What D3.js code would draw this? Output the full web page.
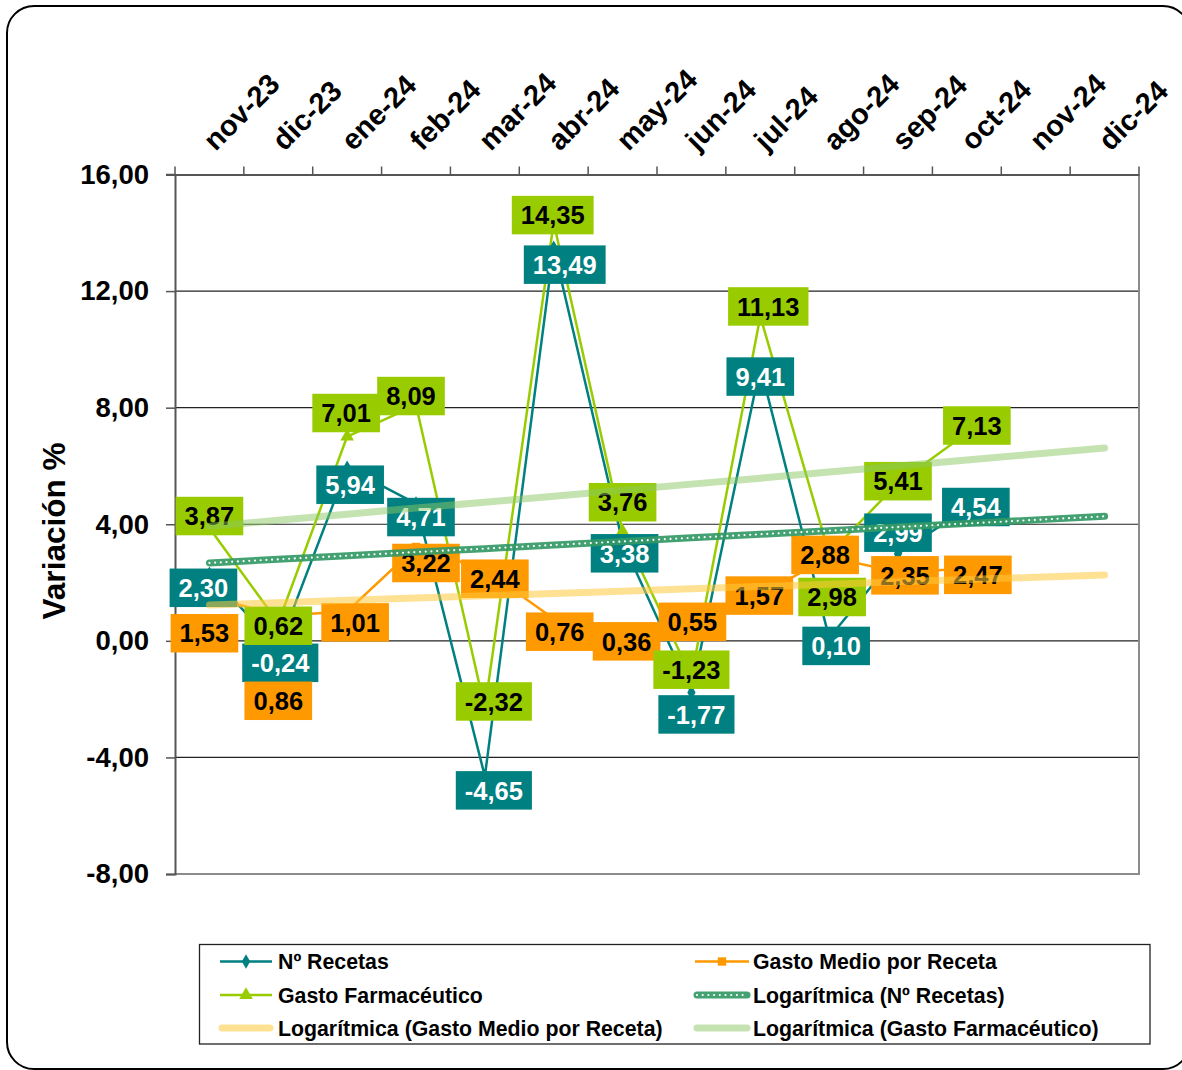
<!DOCTYPE html>
<html>
<head>
<meta charset="utf-8">
<script src="https://cdn.jsdelivr.net/npm/d3@7"></script>
<style>
  body { margin: 0; background: #fff; }
  svg { display: block; }
  text { font-family: "Liberation Sans", Arial, sans-serif; font-weight: bold; }
</style>
</head>
<body>
<svg id="chart" width="1182" height="1070"></svg>
<script>
// Months shown on the category axis (first day of each month, used for the trend fits)
const months = ["nov-23","dic-23","ene-24","feb-24","mar-24","abr-24","may-24","jun-24","jul-24","ago-24","sep-24","oct-24","nov-24","dic-24"];
const monthStarts = ["2023-11-01","2023-12-01","2024-01-01","2024-02-01","2024-03-01","2024-04-01","2024-05-01","2024-06-01","2024-07-01","2024-08-01","2024-09-01","2024-10-01","2024-11-01","2024-12-01"];

// Interannual variation (%) per month
const recetas     = [2.30, -0.24, 5.94, 4.71, -4.65, 13.49, 3.38, -1.77, 9.41, 0.10, 2.99, 4.54];
const gastoMedio  = [1.53, 0.86, 1.01, 3.22, 2.44, 0.76, 0.36, 0.55, 1.57, 2.88, 2.35, 2.47];
const gastoFarma  = [3.87, 0.62, 7.01, 8.09, -2.32, 14.35, 3.76, -1.23, 11.13, 2.98, 5.41, 7.13];

const yTicks = [-8, -4, 0, 4, 8, 12, 16];

// Placement of each value box relative to its point [dx, dy] in px
const recetasLabelShift    = [[-6,14],[2,15],[3,17],[5,13.5],[9,14],[11,17],[2,11],[5,22],[0,10],[7,8],[0,-21],[9,-1.5]];
const gastoMedioLabelShift = [[-5,37],[0,85],[8,11],[10,16],[10,9],[6,13],[4,11],[1,-3],[-1,0.5],[-4,-2],[7,3],[11,6]];
const gastoFarmaLabelShift = [[0,-12],[0,3],[-1,-23.5],[-5,-9],[9,-7],[-1,-7.5],[0,-29],[0,-7],[8,-10],[3,43],[0,-2],[10,-7.5]];

const TEAL = "#008080", ORANGE = "#FF9900", LIME = "#99CC00";

const svg = d3.select("#chart");

// outer rounded frame
svg.append("rect")
  .attr("x", 7).attr("y", 6).attr("width", 1183).attr("height", 1063)
  .attr("rx", 27).attr("ry", 27)
  .attr("fill", "#fff").attr("stroke", "#000").attr("stroke-width", 2);

const plot = { left: 175, right: 1139, top: 174.5, bottom: 874 };

const x = d3.scaleBand().domain(months).range([plot.left, plot.right]).padding(0);
const cx = i => x(months[i]) + x.bandwidth() / 2;
const y = d3.scaleLinear().domain([-8, 16]).range([plot.bottom, plot.top]);

// horizontal gridlines
svg.append("g").selectAll("line")
  .data(yTicks.filter(v => v > -8 && v < 16))
  .join("line")
  .attr("x1", plot.left).attr("x2", plot.right)
  .attr("y1", d => y(d)).attr("y2", d => y(d))
  .attr("stroke", "#222").attr("stroke-width", 1.2);

// right and bottom edges of the plot area
svg.append("path")
  .attr("d", `M${plot.right},${plot.top}V${plot.bottom}H${plot.left}`)
  .attr("fill", "none").attr("stroke", "#8c8c8c").attr("stroke-width", 2);

// value axis
const fmt = v => v.toFixed(2).replace(".", ",");
const yAxis = svg.append("g")
  .attr("transform", `translate(${plot.left},0)`)
  .call(d3.axisLeft(y).tickValues(yTicks).tickFormat(fmt).tickSize(9).tickPadding(17));
yAxis.select(".domain").attr("stroke", "#555").attr("stroke-width", 2);
yAxis.selectAll(".tick line").attr("stroke", "#555").attr("stroke-width", 1.5);
yAxis.selectAll(".tick text")
  .attr("font-size", 27.5).attr("font-weight", "bold").attr("fill", "#000")
  .attr("font-family", "'Liberation Sans', Arial, sans-serif");

// category axis along the top
const xAxis = svg.append("g")
  .attr("transform", `translate(0,${plot.top})`)
  .call(d3.axisTop(x).tickSize(0).tickFormat(""));
xAxis.select(".domain").attr("stroke", "#555").attr("stroke-width", 2);
svg.append("g").selectAll("line")
  .data(months.map((m, i) => i).concat([months.length]))
  .join("line")
  .attr("x1", i => i < months.length ? x(months[i]) : plot.right)
  .attr("x2", i => i < months.length ? x(months[i]) : plot.right)
  .attr("y1", plot.top - 8).attr("y2", plot.top)
  .attr("stroke", "#555").attr("stroke-width", 1.5);
svg.append("line")
  .attr("x1", plot.left - 9).attr("x2", plot.left)
  .attr("y1", plot.top).attr("y2", plot.top)
  .attr("stroke", "#555").attr("stroke-width", 1.5);

svg.append("g").selectAll("text")
  .data(months)
  .join("text")
  .attr("transform", (d, i) => `translate(${cx(i) + 6},${152}) rotate(-45)`)
  .attr("font-size", 29)
  .attr("fill", "#000")
  .text(d => d);

// axis title
svg.append("text")
  .attr("transform", `translate(65,531) rotate(-90)`)
  .attr("text-anchor", "middle")
  .attr("font-size", 31.5)
  .attr("fill", "#000")
  .text("Variación %");

// series lines and markers
const line = d3.line().x((d, i) => cx(i)).y(d => y(d));

function drawSeries(values, color) {
  svg.append("path").datum(values)
    .attr("d", line)
    .attr("fill", "none").attr("stroke", color).attr("stroke-width", 2.5)
    .attr("stroke-linejoin", "round");
}
drawSeries(recetas, TEAL);
drawSeries(gastoMedio, ORANGE);
drawSeries(gastoFarma, LIME);

const diamond = d3.symbol().type(d3.symbolDiamond).size(60);
const square = d3.symbol().type(d3.symbolSquare).size(70);
const triangle = d3.symbol().type(d3.symbolTriangle).size(80);

function drawMarkers(values, color, sym) {
  svg.append("g").selectAll("path")
    .data(values)
    .join("path")
    .attr("transform", (d, i) => `translate(${cx(i)},${y(d)})`)
    .attr("d", sym)
    .attr("fill", color);
}
drawMarkers(recetas, TEAL, diamond);
drawMarkers(gastoMedio, ORANGE, square);
drawMarkers(gastoFarma, LIME, triangle);

// value boxes
function drawLabels(values, shifts, fill, textColor) {
  const g = svg.append("g");
  values.forEach((v, i) => {
    const px = cx(i) + shifts[i][0];
    const py = y(v) + shifts[i][1];
    const t = g.append("text")
      .attr("x", px).attr("y", py)
      .attr("text-anchor", "middle")
      .attr("dy", "0.36em")
      .attr("font-size", 25.5)
      .attr("fill", textColor)
      .text(fmt(v));
    const w = t.node().getComputedTextLength() + 18;
    g.insert("rect", "text")
      .attr("x", px - w / 2).attr("y", py - 19.25)
      .attr("width", w).attr("height", 38.5)
      .attr("fill", fill);
  });
}
drawLabels(recetas, recetasLabelShift, TEAL, "#fff");
drawLabels(gastoMedio, gastoMedioLabelShift, ORANGE, "#000");
drawLabels(gastoFarma, gastoFarmaLabelShift, LIME, "#000");

// logarithmic trend lines, fitted on the date serials and projected to dic-24
const serial = s => (Date.parse(s) - Date.UTC(1899, 11, 30)) / 864e5;
function logTrend(values) {
  const lx = values.map((v, i) => Math.log(serial(monthStarts[i])));
  const mx = d3.mean(lx), my = d3.mean(values);
  const a = d3.sum(lx, (l, i) => (l - mx) * (values[i] - my)) / d3.sum(lx, l => (l - mx) ** 2);
  const b = my - a * mx;
  return monthStarts.map(s => a * Math.log(serial(s)) + b);
}
const trendLine = d3.line().x((d, i) => cx(i)).y(d => y(d));

svg.append("path").datum(logTrend(gastoMedio))
  .attr("d", trendLine).attr("fill", "none")
  .attr("stroke", "rgba(255,200,60,0.55)").attr("stroke-width", 7).attr("stroke-linecap", "round");
svg.append("path").datum(logTrend(gastoFarma))
  .attr("d", trendLine).attr("fill", "none")
  .attr("stroke", "rgba(140,200,100,0.5)").attr("stroke-width", 7).attr("stroke-linecap", "round");
const recTrend = logTrend(recetas);
svg.append("path").datum(recTrend)
  .attr("d", trendLine).attr("fill", "none")
  .attr("stroke", "rgba(51,153,102,0.92)").attr("stroke-width", 7).attr("stroke-linecap", "round");
svg.append("path").datum(recTrend)
  .attr("d", trendLine).attr("fill", "none")
  .attr("stroke", "#fff").attr("stroke-width", 2.2).attr("stroke-linecap", "round")
  .attr("stroke-dasharray", "0 5.7");

// legend
const legend = svg.append("g");
legend.append("rect")
  .attr("x", 199.5).attr("y", 944.5).attr("width", 950.5).attr("height", 99.5)
  .attr("fill", "#fff").attr("stroke", "#222").attr("stroke-width", 1.3);

const legendItems = [
  { name: "Nº Recetas", col: 0, row: 0, kind: "series", color: TEAL, sym: diamond },
  { name: "Gasto Medio por Receta", col: 1, row: 0, kind: "series", color: ORANGE, sym: square },
  { name: "Gasto Farmacéutico", col: 0, row: 1, kind: "series", color: LIME, sym: triangle },
  { name: "Logarítmica (Nº Recetas)", col: 1, row: 1, kind: "dotted", color: "rgba(51,153,102,0.92)" },
  { name: "Logarítmica (Gasto Medio por Receta)", col: 0, row: 2, kind: "trend", color: "rgba(255,200,60,0.55)" },
  { name: "Logarítmica (Gasto Farmacéutico)", col: 1, row: 2, kind: "trend", color: "rgba(140,200,100,0.5)" }
];
const colX = [[220, 272, 278], [695, 749, 753]];
const rowY = [961.5, 995, 1028];

legendItems.forEach(it => {
  const [x1, x2, tx] = colX[it.col];
  const ly = rowY[it.row];
  if (it.kind === "series") {
    legend.append("line").attr("x1", x1).attr("x2", x2).attr("y1", ly).attr("y2", ly)
      .attr("stroke", it.color).attr("stroke-width", 2.5);
    legend.append("path").attr("transform", `translate(${(x1 + x2) / 2},${ly})`)
      .attr("d", it.sym).attr("fill", it.color);
  } else {
    legend.append("line").attr("x1", x1 + 2).attr("x2", x2 - 2).attr("y1", ly).attr("y2", ly)
      .attr("stroke", it.color).attr("stroke-width", 7).attr("stroke-linecap", "round");
    if (it.kind === "dotted") {
      legend.append("line").attr("x1", x1 + 2).attr("x2", x2 - 2).attr("y1", ly).attr("y2", ly)
        .attr("stroke", "#fff").attr("stroke-width", 2.2).attr("stroke-linecap", "round")
        .attr("stroke-dasharray", "0 5.7");
    }
  }
  legend.append("text").attr("x", tx).attr("y", ly).attr("dy", "0.36em")
    .attr("font-size", 21.3).attr("fill", "#000").text(it.name);
});
</script>
</body>
</html>
